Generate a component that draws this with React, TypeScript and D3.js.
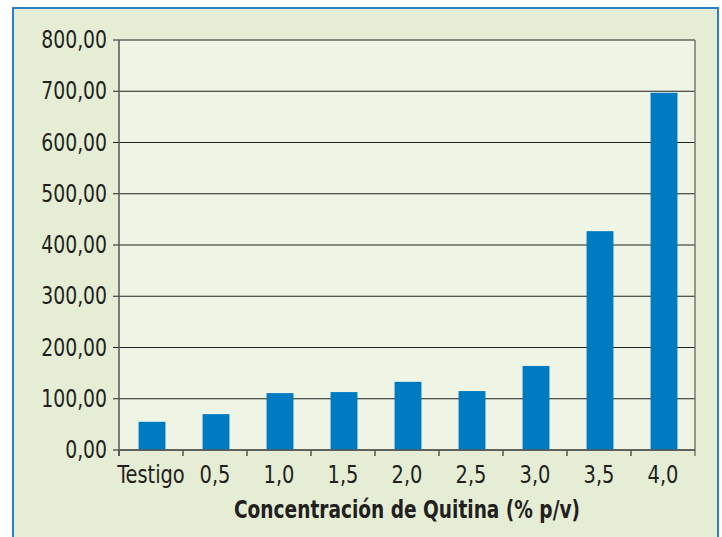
import * as d3 from 'd3';
import React, { useEffect, useRef } from "react";

const categories = ['Testigo', '0,5', '1,0', '1,5', '2,0', '2,5', '3,0', '3,5', '4,0'];
const values = [55, 70, 111, 113, 133, 115, 164, 427, 697];
const yTicks = [0, 100, 200, 300, 400, 500, 600, 700, 800];
const xTitle = 'Concentración de Quitina (% p/v)';

const FONT = '"Liberation Sans Narrow", "DejaVu Sans Condensed", "Roboto", sans-serif';

const App: React.FC = () => {
    const ref = useRef<SVGSVGElement>(null);

    useEffect(() => {
        if (!ref.current) return;
        const width = 722;
        const height = 537;
        const left = 119, right = 695, top = 40, bottom = 450;

        const svg = d3.select(ref.current)
            .attr('width', width)
            .attr('height', height);
        svg.selectAll('*').remove();

        // outer frame
        svg.append('rect')
            .attr('x', 13).attr('y', 8)
            .attr('width', 705).attr('height', 560)
            .attr('fill', '#e5eed5')
            .attr('stroke', '#2b80c8')
            .attr('stroke-width', 2);

        const x = d3.scaleBand<string>()
            .domain(categories)
            .range([left, right])
            .paddingInner(0.58)
            .paddingOuter(0.29);
        const xb = d3.scaleBand<string>().domain(categories).range([left, right]);

        const y = d3.scaleLinear().domain([0, 800]).range([bottom, top]);

        // plot background
        svg.append('rect')
            .attr('x', left).attr('y', top)
            .attr('width', right - left).attr('height', bottom - top)
            .attr('fill', '#eff5e5');

        // grid
        svg.append('g')
            .selectAll('line')
            .data(yTicks)
            .enter()
            .append('line')
            .attr('x1', left - 6).attr('x2', right)
            .attr('y1', d => y(d)).attr('y2', d => y(d))
            .attr('stroke', '#231f20')
            .attr('stroke-width', 1.2);

        // bars
        svg.append('g')
            .selectAll('rect')
            .data(values)
            .enter()
            .append('rect')
            .attr('x', (d, i) => x(categories[i])! + 1)
            .attr('width', x.bandwidth())
            .attr('y', d => y(d))
            .attr('height', d => bottom - y(d))
            .attr('fill', '#007ac3');

        // axes lines
        svg.append('line')
            .attr('x1', left).attr('x2', left)
            .attr('y1', top).attr('y2', bottom + 6)
            .attr('stroke', '#555555').attr('stroke-width', 1.5);
        svg.append('line')
            .attr('x1', right).attr('x2', right)
            .attr('y1', top).attr('y2', bottom + 6)
            .attr('stroke', '#777777').attr('stroke-width', 1.5);
        svg.append('line')
            .attr('x1', left).attr('x2', right)
            .attr('y1', bottom).attr('y2', bottom)
            .attr('stroke', '#555555').attr('stroke-width', 1.5);

        // x ticks at band edges
        svg.append('g')
            .selectAll('line')
            .data(categories)
            .enter()
            .append('line')
            .attr('x1', d => xb(d)!).attr('x2', d => xb(d)!)
            .attr('y1', bottom).attr('y2', bottom + 6)
            .attr('stroke', '#555555').attr('stroke-width', 1.5);

        // y labels (condensed)
        svg.append('g')
            .selectAll('text')
            .data(yTicks)
            .enter()
            .append('text')
            .attr('transform', d => `translate(107, ${y(d) + 8}) scale(0.87, 1)`)
            .attr('text-anchor', 'end')
            .attr('font-family', FONT)
            .attr('font-size', 24)
            .attr('fill', '#231f20')
            .text(d => d3.format('.2f')(d).replace('.', ','));

        // x labels
        svg.append('g')
            .selectAll('text')
            .data(categories)
            .enter()
            .append('text')
            .attr('transform', d => `translate(${xb(d)! + xb.bandwidth() / 2}, 483) scale(0.9, 1)`)
            .attr('text-anchor', 'middle')
            .attr('font-family', FONT)
            .attr('font-size', 24)
            .attr('fill', '#231f20')
            .text(d => d);

        // x title
        svg.append('text')
            .attr('x', (left + right) / 2)
            .attr('y', 518)
            .attr('text-anchor', 'middle')
            .attr('font-family', FONT)
            .attr('font-weight', 'bold')
            .attr('font-size', 24)
            .attr('fill', '#231f20')
            .attr('textLength', 346)
            .attr('lengthAdjust', 'spacingAndGlyphs')
            .text(xTitle);
    }, []);

    return (<svg ref={ref} style={{ position: 'absolute', left: 0, top: 0 }}></svg>);
}

export default App;
